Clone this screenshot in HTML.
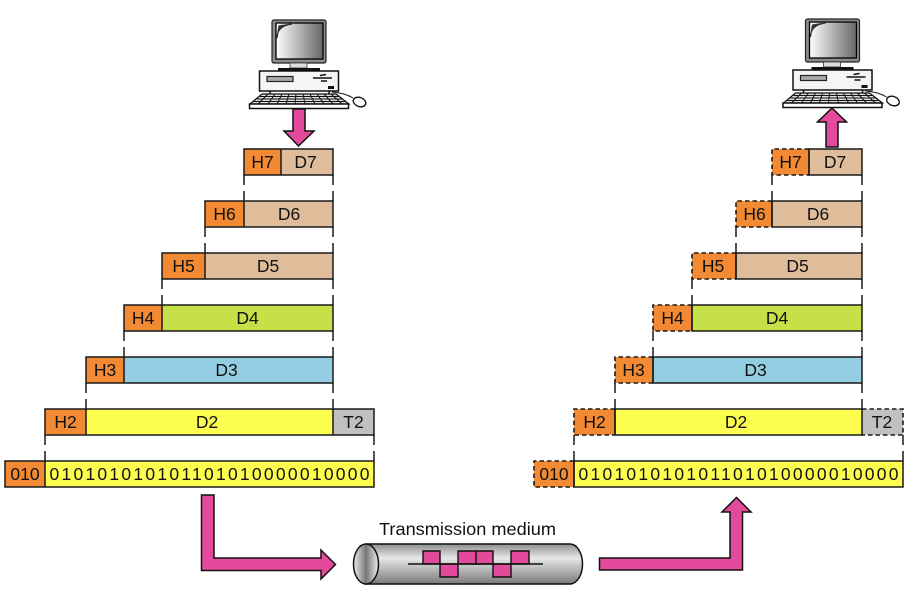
<!DOCTYPE html>
<html><head><meta charset="utf-8"><style>
html,body{margin:0;padding:0;background:#fff;width:918px;height:598px;overflow:hidden}
svg{display:block}
text{font-family:"Liberation Sans",sans-serif;font-size:17.5px;fill:#111;text-anchor:middle}
.o{fill:#f18a32}.t{fill:#dfbd9a}.g{fill:#c6e147}.b{fill:#92cde2}.y{fill:#fdfd50}.s{fill:#c0c0c0}
.k{stroke:#1a1a1a;stroke-width:1.5}
.d{stroke:#1a1a1a;stroke-width:1.6;stroke-dasharray:4.5 3}
.p{fill:#e34a9b;stroke:#111;stroke-width:1.5}
.l{stroke:#111;stroke-width:1.4;fill:none}
</style></head><body>
<svg width="918" height="598" viewBox="0 0 918 598" xmlns="http://www.w3.org/2000/svg">
<defs>
<linearGradient id="scr" x1="0" x2="1" y1="0" y2="0"><stop offset="0" stop-color="#fff"/><stop offset="1" stop-color="#666"/></linearGradient>
<linearGradient id="cyl" x1="0" x2="0" y1="0" y2="1"><stop offset="0" stop-color="#8e8e8e"/><stop offset=".35" stop-color="#e8e8e8"/><stop offset="1" stop-color="#7a7a7a"/></linearGradient>
<linearGradient id="end" x1="0" x2="1" y1="0" y2="0"><stop offset="0" stop-color="#eee"/><stop offset=".5" stop-color="#777"/><stop offset="1" stop-color="#eee"/></linearGradient>
<g id="pc">
<rect x="272" y="20" width="54" height="43" rx="2" fill="#8c8c8c" stroke="#222" stroke-width="1.200"/>
<rect x="276" y="23" width="47" height="36" fill="url(#scr)" stroke="#000" stroke-width="1.300"/>
<path d="M277 38 Q277 26 292 24 L279 26 Z" fill="#333" stroke="#333" stroke-width="1.200"/>
<rect x="290" y="63" width="17" height="5" fill="#ddd" stroke="#333" stroke-width=".8"/>
<rect x="278" y="68" width="42" height="3" fill="#111"/>
<rect x="259.500" y="71" width="79" height="20" fill="#f5f5f5" stroke="#111" stroke-width="1.500"/>
<rect x="267" y="76.500" width="26" height="5" fill="#aaa" stroke="#222" stroke-width="1.200"/>
<path d="M313 78 H332 M320 75.500 L326 74.500 M321 81 H327" stroke="#111" stroke-width="1.600" fill="none"/>
<rect x="328" y="86" width="6" height="3" fill="#111"/>
<path d="M270 91v3M329 91v3" stroke="#111" stroke-width="1.500"/>
<path d="M262 94 H336 L349 104 H250 Z" fill="#ddd" stroke="#111" stroke-width="1.200"/>
<path d="M260 96.500H339M257 99H342M254 101.500H345" stroke="#111" stroke-width="1.100"/>
<path d="M268 94L258 104M275 94L268 104M282 94L277 104M289 94L286 104M296 94L295 104M303 94L305 104M310 94L315 104M317 94L324 104M324 94L333 104M331 94L342 104" stroke="#111" stroke-width="1"/>
<rect x="249.500" y="104" width="99" height="4.500" fill="#fff" stroke="#111" stroke-width="1.500"/>
<path d="M332 92 Q345 93 353 98" fill="none" stroke="#111" stroke-width=".9"/>
<ellipse cx="359.500" cy="102" rx="6.500" ry="4.500" transform="rotate(20 359.500 102)" fill="#fff" stroke="#111" stroke-width="1.300"/>
</g>
</defs>

<use href="#pc"/>
<use href="#pc" x="533.500" y="-1"/>

<polygon class="p" points="293,109 305,109 305,131 314,131 298.500,146 284,131 293,131"/>
<polygon class="p" points="826,147 838,147 838,122 846.500,122 832,108 817.500,122 826,122"/>

<!-- left stack -->
<rect class="o" x="244" y="149" width="37" height="26"/><rect class="t" x="281" y="149" width="52" height="26"/>
<rect class="o" x="205" y="201" width="39" height="26"/><rect class="t" x="244" y="201" width="89" height="26"/>
<rect class="o" x="162" y="253" width="43" height="26"/><rect class="t" x="205" y="253" width="128" height="26"/>
<rect class="o" x="124" y="305" width="38" height="26"/><rect class="g" x="162" y="305" width="171" height="26"/>
<rect class="o" x="86" y="357" width="38" height="26"/><rect class="b" x="124" y="357" width="209" height="26"/>
<rect class="o" x="45" y="409" width="41" height="26"/><rect class="y" x="86" y="409" width="247" height="26"/><rect class="s" x="333" y="409" width="41" height="26"/>
<rect class="o" x="5" y="461" width="40" height="26"/><rect class="y" x="45" y="461" width="329" height="26"/>
<g class="k" fill="none">
<path d="M244 149H333V175H244ZM281 149V175M205 201H333V227H205ZM244 201V227M162 253H333V279H162ZM205 253V279M124 305H333V331H124ZM162 305V331M86 357H333V383H86ZM124 357V383M45 409H374V435H45ZM86 409V435M333 409V435M374 409V435M5 461H374V487H5ZM45 461V487"/>
<path d="M244 175V185M244 191V201M333 175V185M333 191V201M205 227V237M205 243V253M333 227V237M333 243V253M162 279V289M162 295V305M333 279V289M333 295V305M124 331V341M124 347V357M333 331V341M333 347V357M86 383V393M86 399V409M333 383V393M333 399V409M45 435V445M45 451V461M374 435V445M374 451V461"/>
</g>
<text x="262.500" y="168">H7</text><text x="305.500" y="168">D7</text>
<text x="224.500" y="220">H6</text><text x="289" y="220">D6</text>
<text x="183.500" y="272">H5</text><text x="268" y="272">D5</text>
<text x="143" y="324">H4</text><text x="247.500" y="324">D4</text>
<text x="105" y="376">H3</text><text x="226.500" y="376">D3</text>
<text x="65.500" y="428">H2</text><text x="207" y="428">D2</text><text x="353.500" y="428">T2</text>
<text x="25" y="480">010</text>
<text x="209.500" y="480" textLength="320" lengthAdjust="spacing">010101010101101010000010000</text>

<!-- right stack -->
<rect class="o" x="772" y="149" width="37" height="26"/><rect class="t" x="809" y="149" width="53" height="26"/>
<rect class="o" x="736" y="201" width="36" height="26"/><rect class="t" x="772" y="201" width="90" height="26"/>
<rect class="o" x="692" y="253" width="44" height="26"/><rect class="t" x="736" y="253" width="126" height="26"/>
<rect class="o" x="653" y="305" width="39" height="26"/><rect class="g" x="692" y="305" width="170" height="26"/>
<rect class="o" x="615" y="357" width="38" height="26"/><rect class="b" x="653" y="357" width="209" height="26"/>
<rect class="o" x="574" y="409" width="41" height="26"/><rect class="y" x="615" y="409" width="247" height="26"/><rect class="s" x="862" y="409" width="41" height="26"/>
<rect class="o" x="534" y="461" width="40" height="26"/><rect class="y" x="574" y="461" width="329" height="26"/>
<g class="k" fill="none">
<path d="M809 149H862V175H809ZM772 201H862V227H772ZM736 253H862V279H736ZM692 305H862V331H692ZM653 357H862V383H653ZM615 409H862V435H615ZM574 461H903V487H574Z"/>
<path d="M809 149V175M772 201V227M736 253V279M692 305V331M653 357V383M615 409V435M574 461V487"/>
<path d="M772 175V185M772 191V201M862 175V185M862 191V201M736 227V237M736 243V253M862 227V237M862 243V253M692 279V289M692 295V305M862 279V289M862 295V305M653 331V341M653 347V357M862 331V341M862 347V357M615 383V393M615 399V409M862 383V393M862 399V409M574 435V445M574 451V461M903 435V445M903 451V461"/>
</g>
<g class="d" fill="none">
<path d="M809 149H772V175H809"/><path d="M772 201H736V227H772"/><path d="M736 253H692V279H736"/><path d="M692 305H653V331H692"/><path d="M653 357H615V383H653"/><path d="M615 409H574V435H615"/><path d="M574 461H534V487H574"/>
<path d="M862 409H903V435H862"/>
</g>
<text x="790.500" y="168">H7</text><text x="835" y="168">D7</text>
<text x="754.500" y="220">H6</text><text x="818" y="220">D6</text>
<text x="713" y="272">H5</text><text x="797.500" y="272">D5</text>
<text x="672.500" y="324">H4</text><text x="777" y="324">D4</text>
<text x="633.500" y="376">H3</text><text x="755.500" y="376">D3</text>
<text x="594.500" y="428">H2</text><text x="736" y="428">D2</text><text x="882" y="428">T2</text>
<text x="554" y="480">010</text>
<text x="738.500" y="480" textLength="320" lengthAdjust="spacing">010101010101101010000010000</text>

<!-- arrows -->
<polygon class="p" points="201.500,495 214,495 214,558 321,558 321,550 335.500,564.500 321,579 321,570.500 201.500,570.500"/>
<polygon class="p" points="599.500,558 730,558 730,512 722,512 736.500,497.500 751,512 742.500,512 742.500,570 599.500,570"/>

<!-- cylinder -->
<text x="467.500" y="535" textLength="177" lengthAdjust="spacingAndGlyphs">Transmission medium</text>
<path d="M366 544 H570 A12.500 20 0 0 1 570 584 H366 Z" fill="url(#cyl)" stroke="#111" stroke-width="1.500"/>
<ellipse cx="366" cy="564" rx="12.500" ry="20" fill="url(#end)" stroke="#111" stroke-width="1.500"/>
<path d="M423 551H440V564H423ZM440 564H458V577H440ZM458 551H476V564H458ZM476 551H493V564H476ZM493 564H511V577H493ZM511 551H529V564H511Z" fill="#e34a9b" stroke="#111" stroke-width="1.400"/>
<path class="l" d="M408 564H543"/>
</svg>
</body></html>
